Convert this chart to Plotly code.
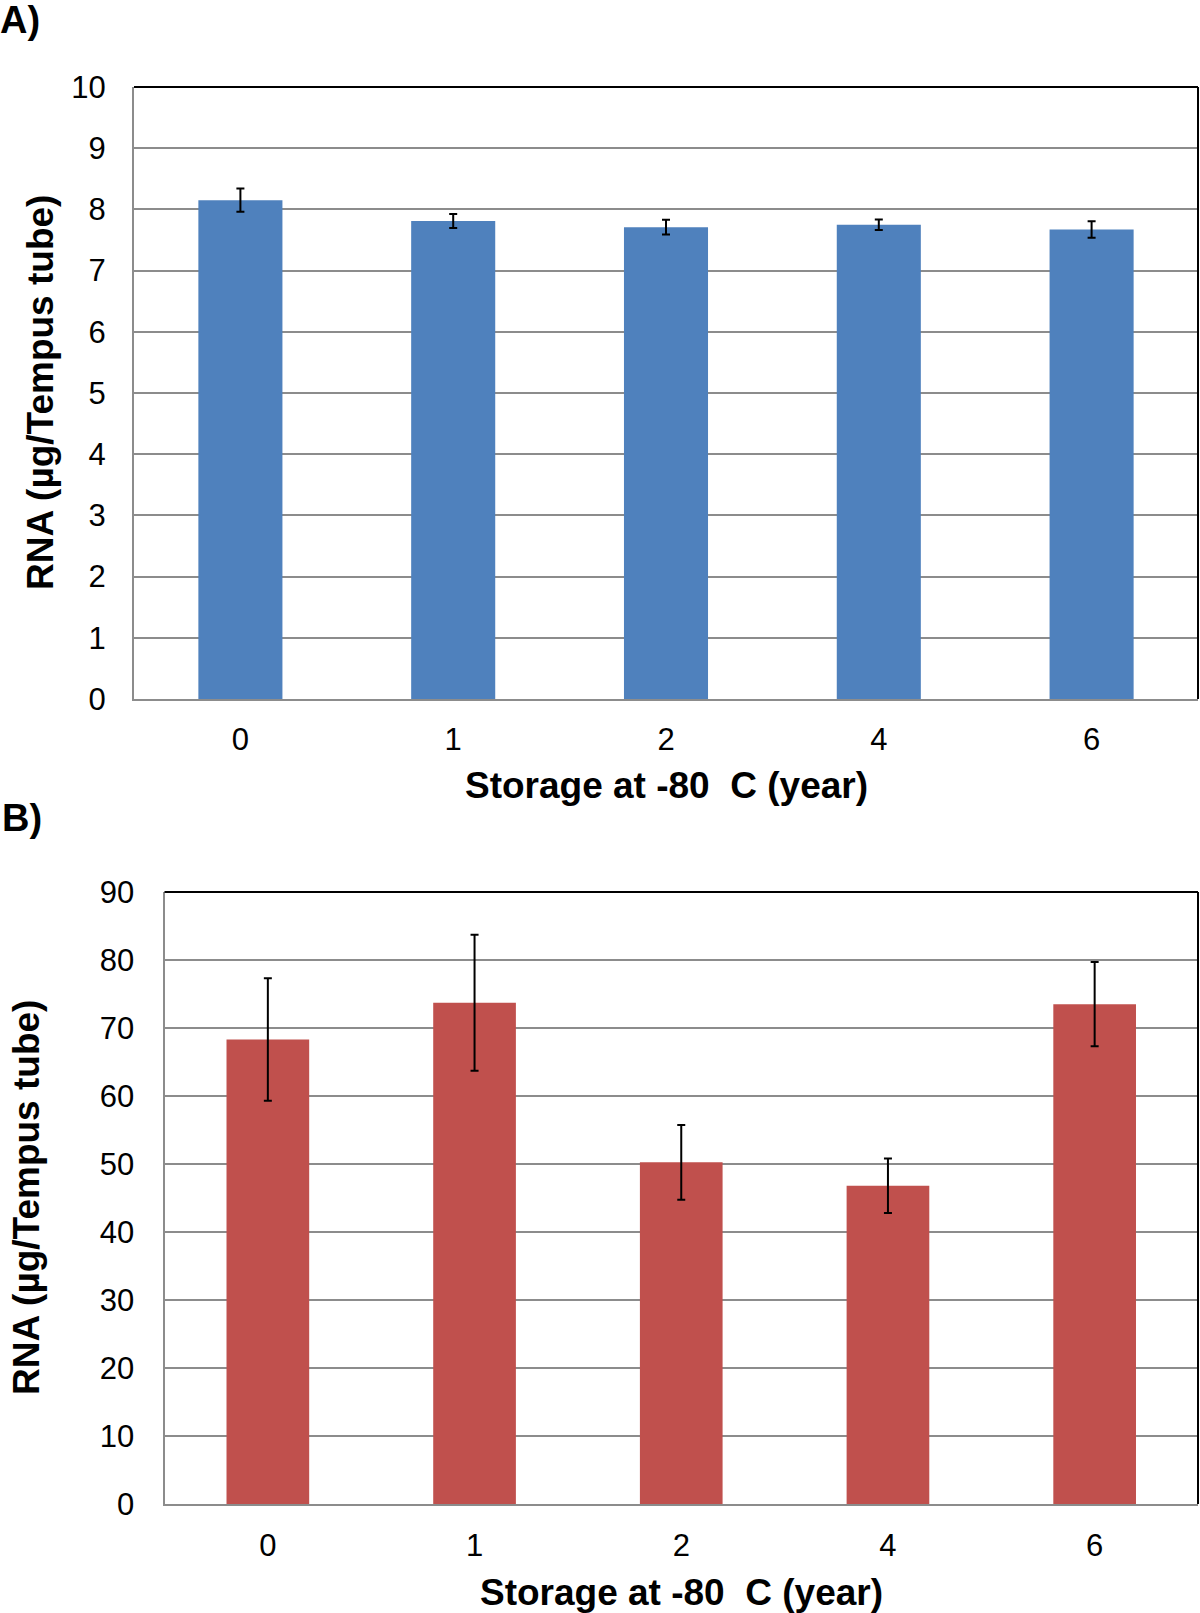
import plotly.graph_objects as go

categories = ["0", "1", "2", "4", "6"]
rna_a = [8.15, 7.81, 7.71, 7.75, 7.67]
err_a = [0.19, 0.115, 0.12, 0.085, 0.135]
rna_b = [68.3, 73.7, 50.25, 46.8, 73.5]
err_b = [9.0, 10.0, 5.5, 4.0, 6.2]

y_ticks_a = list(range(0, 11))
y_ticks_b = list(range(0, 91, 10))

W, H = 1200, 1613
FONT = "Liberation Sans"

def px_x(p):
    return p / W

def px_y(p):
    return 1 - p / H

# plot area pixel boxes
A_box = dict(l=134, r=1198, t=87, b=699)
B_box = dict(l=164.5, r=1198, t=892, b=1504)

fig = go.Figure()

fig.add_trace(go.Bar(
    x=categories, y=rna_a, xaxis="x", yaxis="y",
    marker=dict(color="#4F81BD", line=dict(width=0)),
    width=0.395,
    error_y=dict(type="data", array=err_a, visible=True, color="black",
                 thickness=2, width=4),
    showlegend=False,
))
fig.add_trace(go.Bar(
    x=categories, y=rna_b, xaxis="x2", yaxis="y2",
    marker=dict(color="#C0504D", line=dict(width=0)),
    width=0.40,
    error_y=dict(type="data", array=err_b, visible=True, color="black",
                 thickness=2, width=4),
    showlegend=False,
))

tickfont = dict(family=FONT, size=31, color="black")
grid = dict(showgrid=True, gridcolor="#8c8c8c", gridwidth=2)

fig.update_layout(
    width=W, height=H,
    margin=dict(l=0, r=0, t=0, b=0, pad=0),
    paper_bgcolor="white", plot_bgcolor="white",
    font=dict(family=FONT),
    xaxis=dict(domain=[px_x(A_box["l"]), px_x(A_box["r"])], anchor="y",
               type="category", showline=True, linecolor="#8c8c8c", linewidth=2,
               showgrid=False, ticks="", tickfont=tickfont, ticklabelstandoff=12,
               automargin=False),
    yaxis=dict(domain=[px_y(A_box["b"]), px_y(A_box["t"])], anchor="x",
               range=[0, 10], tickvals=y_ticks_a, showline=True,
               linecolor="#8c8c8c", linewidth=2, ticks="", tickfont=tickfont,
               ticklabelstandoff=20, zeroline=False, automargin=False, **grid),
    xaxis2=dict(domain=[px_x(B_box["l"]), px_x(B_box["r"])], anchor="y2",
                type="category", showline=True, linecolor="#8c8c8c", linewidth=2,
                showgrid=False, ticks="", tickfont=tickfont, ticklabelstandoff=13,
                automargin=False),
    yaxis2=dict(domain=[px_y(B_box["b"]), px_y(B_box["t"])], anchor="x2",
                range=[0, 90], tickvals=y_ticks_b, showline=True,
                linecolor="#8c8c8c", linewidth=2, ticks="", tickfont=tickfont,
                ticklabelstandoff=22, zeroline=False, automargin=False, **grid),
)

# top & right black frame lines
for xr, yr in (("x", "y"), ("x2", "y2")):
    fig.add_shape(type="line", xref=f"{xr} domain", yref=f"{yr} domain",
                  x0=0, x1=1, y0=1, y1=1, line=dict(color="black", width=2))
    fig.add_shape(type="line", xref=f"{xr} domain", yref=f"{yr} domain",
                  x0=1, x1=1, y0=0, y1=1, line=dict(color="black", width=2))

title_font = dict(family=FONT, size=37, color="black")
ann = [
    dict(text="<b>A)</b>", x=px_x(-2), y=px_y(20), xanchor="left", yanchor="middle",
         font=dict(family=FONT, size=38, color="black")),
    dict(text="<b>B)</b>", x=px_x(0), y=px_y(818), xanchor="left", yanchor="middle",
         font=dict(family=FONT, size=38, color="black")),
    dict(text="<b>RNA (µg/Tempus tube)</b>", x=px_x(41), y=px_y(393),
         xanchor="center", yanchor="middle", textangle=-90, font=title_font),
    dict(text="<b>RNA (µg/Tempus tube)</b>", x=px_x(26), y=px_y(1198),
         xanchor="center", yanchor="middle", textangle=-90, font=title_font),
    dict(text="<b>Storage at -80\u00a0\u00a0C (year)</b>", x=px_x(666), y=px_y(785),
         xanchor="center", yanchor="middle", font=title_font),
    dict(text="<b>Storage at -80\u00a0\u00a0C (year)</b>", x=px_x(681), y=px_y(1592),
         xanchor="center", yanchor="middle", font=title_font),
]
for a in ann:
    a.update(xref="paper", yref="paper", showarrow=False)
fig.update_layout(annotations=ann)

fig.write_html(
    "out.html",
    config={"displayModeBar": False},
    post_script="document.body.style.margin='0';document.body.style.padding='0';"
                "document.body.style.overflow='hidden';",
)
